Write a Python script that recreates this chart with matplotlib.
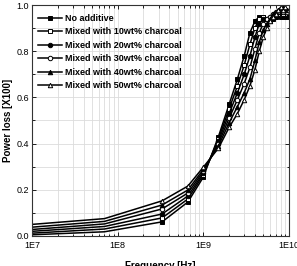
import numpy as np
import matplotlib
matplotlib.use('Agg')
import matplotlib.pyplot as plt
from matplotlib.ticker import LogLocator, MultipleLocator, FixedLocator

plt.rcParams['font.family'] = ['Liberation Sans', 'DejaVu Sans']

# frequency points [Hz]
freq = [1e7, 7e7, 3.3e8, 6.6e8, 1.0e9, 1.5e9, 2.0e9, 2.5e9, 3.0e9, 3.5e9, 4.0e9,
        4.5e9, 5.0e9, 5.5e9, 6.0e9, 6.5e9, 7.0e9, 7.5e9, 8.0e9, 8.5e9, 9.0e9,
        9.5e9, 1.0e10]

# power loss [x100]
no_add = [0.005, 0.018, 0.061, 0.147, 0.255, 0.43, 0.57, 0.68, 0.78, 0.88, 0.93,
          0.95, 0.95, 0.94, 0.93, 0.94, 0.95, 0.96, 0.95, 0.96, 0.95, 0.96, 0.95]
wt10 = [0.012, 0.030, 0.078, 0.160, 0.265, 0.42, 0.55, 0.65, 0.74, 0.83, 0.90,
        0.94, 0.95, 0.94, 0.94, 0.95, 0.96, 0.96, 0.97, 0.96, 0.97, 0.96, 0.96]
wt20 = [0.020, 0.041, 0.095, 0.173, 0.272, 0.41, 0.53, 0.62, 0.70, 0.78, 0.86,
        0.92, 0.94, 0.94, 0.95, 0.95, 0.96, 0.97, 0.97, 0.98, 0.97, 0.97, 0.96]
wt30 = [0.028, 0.052, 0.117, 0.186, 0.280, 0.40, 0.51, 0.59, 0.66, 0.73, 0.81,
        0.88, 0.92, 0.94, 0.95, 0.96, 0.97, 0.97, 0.98, 0.97, 0.98, 0.97, 0.97]
wt40 = [0.038, 0.063, 0.134, 0.199, 0.288, 0.39, 0.49, 0.56, 0.62, 0.68, 0.76,
        0.84, 0.89, 0.92, 0.94, 0.96, 0.97, 0.98, 0.98, 0.99, 0.98, 0.98, 0.97]
wt50 = [0.050, 0.075, 0.152, 0.216, 0.298, 0.38, 0.47, 0.53, 0.59, 0.65, 0.72,
        0.80, 0.86, 0.90, 0.93, 0.95, 0.96, 0.98, 0.99, 0.98, 0.99, 0.97, 0.98]

labels = ['No additive', 'Mixed with 10wt% charcoal', 'Mixed with 20wt% charcoal',
          'Mixed with 30wt% charcoal', 'Mixed with 40wt% charcoal',
          'Mixed with 50wt% charcoal']
series = [no_add, wt10, wt20, wt30, wt40, wt50]
markers = ['s', 's', 'o', 'o', '^', '^']
faces = ['black', 'white', 'black', 'white', 'black', 'white']

fig = plt.figure(figsize=(2.97, 2.66), dpi=100)
ax = fig.add_axes([0.108, 0.113, 0.865, 0.868])

for y, lab, m, fc in zip(series, labels, markers, faces):
    ax.plot(freq, y, color='black', lw=1.1, marker=m, ms=3.2, mfc=fc, mec='black',
            mew=0.7, markevery=list(range(2, len(freq))), label=lab)

ax.set_xscale('log')
ax.set_xlim(1e7, 1e10)
ax.set_ylim(0, 1.0)
ax.xaxis.set_major_locator(FixedLocator([1e7, 1e8, 1e9, 1e10]))
ax.set_xticklabels(['1E7', '1E8', '1E9', '1E10'])
ax.xaxis.set_minor_locator(LogLocator(base=10, subs=np.arange(2, 10), numticks=20))
ax.yaxis.set_major_locator(MultipleLocator(0.2))
ax.yaxis.set_minor_locator(MultipleLocator(0.1))
ax.yaxis.set_major_formatter(matplotlib.ticker.FormatStrFormatter('%.1f'))

ax.grid(True, which='both', color='#dcdcdc', lw=0.6)
ax.set_axisbelow(True)
ax.tick_params(which='both', direction='in', top=True, right=True, labelsize=6.5,
               pad=2, width=0.6)
ax.tick_params(axis='x', which='major', pad=3.5)
ax.tick_params(which='major', length=3)
ax.tick_params(which='minor', length=1.8)
for sp in ax.spines.values():
    sp.set_linewidth(0.8)
    sp.set_color('#333333')

ax.set_ylabel('Power loss [X100]', fontsize=7, fontweight='bold', labelpad=3)
ax.set_xlabel('Frequency [Hz]', fontsize=7, fontweight='bold', labelpad=8)

ax.legend(loc='upper left', frameon=False, prop={'weight': 'bold', 'size': 6.5},
          handlelength=2.6, handletextpad=0.3, labelspacing=0.5, borderaxespad=0.3,
          bbox_to_anchor=(0.0, 0.99))

fig.savefig('out.png', dpi=100)
